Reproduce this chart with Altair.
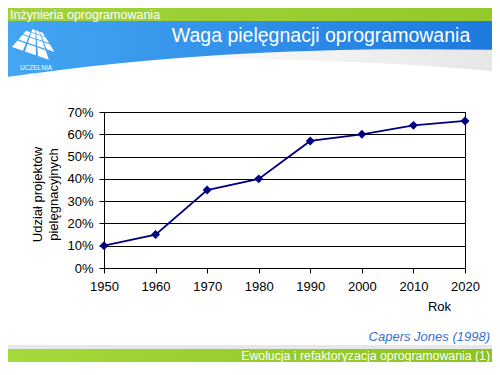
import altair as alt
import pandas as pd

# ---- data ----
years = [1950, 1960, 1970, 1980, 1990, 2000, 2010, 2020]
shares = [0.10, 0.15, 0.35, 0.40, 0.57, 0.60, 0.64, 0.66]
y_ticks = [0.0, 0.1, 0.2, 0.3, 0.4, 0.5, 0.6, 0.7]
x_title = "Rok"
y_title = ["Udział projektów", "pielęgnacyjnych"]
chart_title = "Waga pielęgnacji oprogramowania"
header_text = "Inżynieria oprogramowania"
footer_text = "Ewolucja i refaktoryzacja oprogramowania  (1)"
source_text = "Capers Jones (1998)"
logo_text = ["UCZELNIA", "ONLINE"]

df = pd.DataFrame({"Rok": years, "Udzial": shares})

FONT = "Liberation Sans"
W, H = 361, 156          # plot area
OX, OY = 104, 112        # screen position of plot origin (incl. 8px page margin)
SVG_W, SVG_H = 484, 354  # whole chart, so that the page does not overflow
PAD = {"left": OX - 8, "top": OY - 8,
       "right": SVG_W - (OX - 8) - W, "bottom": SVG_H - (OY - 8) - H}


def px(sx):
    return sx - OX


def py(sy):
    return sy - OY


one = alt.Data(values=[{"k": 0}])


def to_path(cmds, cx, cy, r):
    out = []
    for op, pts in cmds:
        out.append(op + " ".join(f"{(x - cx) / r:.4f},{(y - cy) / r:.4f}" for x, y in pts))
    return " ".join(out)


def symbol(cmds, cx, cy, r, fill):
    return alt.Chart(one).mark_point(
        shape=to_path(cmds, cx, cy, r), size=(2 * r) ** 2, filled=True,
        fill=fill, opacity=1, strokeWidth=0
    ).encode(x=alt.value(px(cx)), y=alt.value(py(cy)))


def rect(x1, y1, x2, y2, fill):
    return alt.Chart(one).mark_rect(fill=fill, strokeWidth=0).encode(
        x=alt.value(px(x1)), x2=alt.value(px(x2)), y=alt.value(py(y1)), y2=alt.value(py(y2)))


def text(t, sx, sy, size, color, align="left", baseline="middle", style="normal"):
    return alt.Chart(one).mark_text(
        text=t, font=FONT, fontSize=size, color=color, align=align,
        baseline=baseline, fontStyle=style
    ).encode(x=alt.value(px(sx)), y=alt.value(py(sy)))


def lin(c0, c1, x2=1, y2=0):
    return {"gradient": "linear", "x1": 0, "y1": 0, "x2": x2, "y2": y2,
            "stops": [{"offset": 0, "color": c0}, {"offset": 1, "color": c1}]}


# ---- slide decoration ----
swoosh = [("M", [(130, 60)]), ("C", [(250, 50), (380, 49), (500, 49)]),
          ("L", [(500, 72)]), ("C", [(400, 62), (250, 56), (130, 60)]), ("Z", [])]
banner = [("M", [(0, 8)]), ("L", [(500, 8)]), ("L", [(500, 50)]),
          ("C", [(330, 47), (180, 52), (0, 78)]), ("Z", [])]


def logo_cmds():
    ox, oy = 12.0, 47.0
    U = (13.0, 4.5)
    V = (6.5, -7.5)
    q = 0.72
    rows = {0: [0, 1, 2], 1: [0, 1, 2, 3], 2: [0, 1, 2, 3], 3: [1, 2, 3]}

    def P(a, b):
        k = q ** b
        h = (1 - q ** b) / (1 - q)
        return (ox + U[0] * a * k + V[0] * h, oy + U[1] * a * k + V[1] * h)

    cmds = []
    g = 0.16
    for b, cols in rows.items():
        for a in cols:
            pts = [P(a, b), P(a + 1 - g, b), P(a + 1 - g, b + 1 - g), P(a, b + 1 - g)]
            cmds.append(("M", [pts[0]]))
            cmds.append(("L", pts[1:]))
            cmds.append(("Z", []))
    return cmds


decor = [
    symbol(swoosh, 300, 60, 250, lin("#ffffff", "#e6e6e6")),
    symbol(banner, 250, 43, 250, lin("#45a6f3", "#1d79dd")),
    rect(0, 8, 500, 21, lin("#a2d43a", "#93c82a")),
    rect(0, 345, 500, 349, "#e8e8e8"),
    rect(0, 349, 500, 376, lin("#a6d93b", "#8bc220")),
    symbol(logo_cmds(), 35, 42, 50, "#ffffff"),
    text(logo_text[0], 36, 68, 6.5, "#ffffff", align="center"),
    text(logo_text[1], 36, 75, 4, "#e0eeff", align="center"),
    text(header_text, 10, 14.5, 12.5, "#ffffff"),
    text(chart_title, 321, 42, 19.5, "#ffffff", align="center", baseline="alphabetic"),
    text(source_text, 490, 337, 13, "#3a6fd0", align="right", style="italic"),
    text(footer_text, 490, 355.5, 12.3, "#ffffff", align="right"),
]

# ---- the chart ----
base = alt.Chart(df).encode(
    x=alt.X("Rok:Q",
            scale=alt.Scale(domain=[1950, 2020], nice=False, zero=False),
            axis=alt.Axis(values=years, format="d", title=x_title, grid=False,
                          tickSize=5, labelPadding=7, labelFlush=False,
                          titleX=px(439), titleY=306 - (OY + H),
                          titleAlign="center", titleBaseline="middle")),
    y=alt.Y("Udzial:Q",
            scale=alt.Scale(domain=[0, 0.7], nice=False),
            axis=alt.Axis(values=y_ticks, format=".0%", title=y_title, grid=True,
                          tickSize=5, labelPadding=6, labelFlush=False,
                          titleX=px(37), titleY=H / 2 + 4, titleAngle=270,
                          titleAlign="center", titleBaseline="middle",
                          titleLineHeight=16)),
)
line = base.mark_line(color="#000080", strokeWidth=1.8)
pts = base.mark_point(shape="diamond", filled=True, size=80, color="#000080", opacity=1)

chart = alt.layer(*decor, line, pts).properties(
    width=W, height=H,
    autosize=alt.AutoSizeParams(type="none"),
    padding=PAD,
    background="white",
).configure_view(
    stroke="black", strokeWidth=1, fill=None
).configure_axis(
    domainColor="black", tickColor="black", gridColor="black",
    domainWidth=1, tickWidth=1, gridWidth=1,
    labelColor="black", labelFont=FONT, labelFontSize=13,
    titleColor="black", titleFont=FONT, titleFontSize=13, titleFontWeight="normal",
)

chart.save("out.html", embed_options={"renderer": "svg", "actions": False})
